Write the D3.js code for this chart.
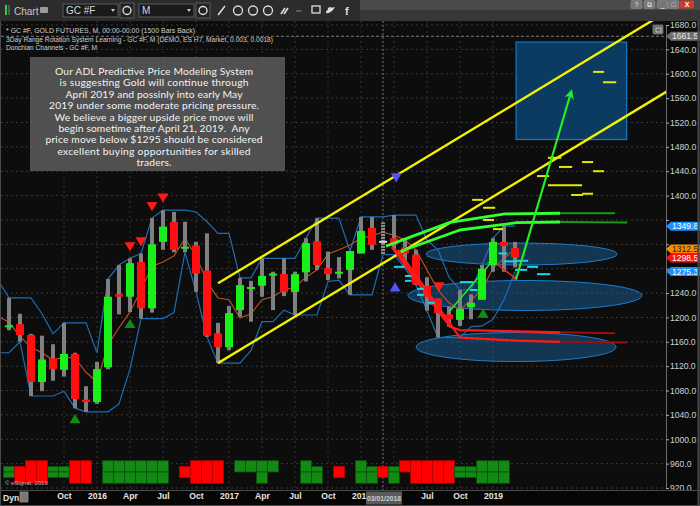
<!DOCTYPE html>
<html>
<head>
<meta charset="utf-8">
<script src="https://cdn.jsdelivr.net/npm/d3@7"></script>
<style>
  html, body { margin:0; padding:0; background:#0d0d0d; overflow:hidden; }
  svg { display:block; }
</style>
</head>
<body>
<svg id="chart" width="700" height="506"></svg>
<script>
// ===================== DATA =====================
const months = ["2015-05","2015-06","2015-07","2015-08","2015-09","2015-10","2015-11","2015-12",
  "2016-01","2016-02","2016-03","2016-04","2016-05","2016-06","2016-07","2016-08","2016-09","2016-10","2016-11","2016-12",
  "2017-01","2017-02","2017-03","2017-04","2017-05","2017-06","2017-07","2017-08","2017-09","2017-10","2017-11","2017-12",
  "2018-01","2018-02","2018-03","2018-04","2018-05","2018-06","2018-07","2018-08","2018-09","2018-10","2018-11","2018-12",
  "2019-01","2019-02","2019-03"];
const open  = [1185,1189,1171,1094,1133,1114,1140,1065,1061,1118,1238,1234,1291,1215,1324,1357,1313,1318,1277,1174,1151,1212,1247,1252,1270,1271,1242,1274,1325,1281,1272,1278,1305,1347,1318,1330,1315,1303,1252,1231,1205,1196,1217,1229,1286,1324,1314];
const high  = [1232,1206,1173,1170,1156,1191,1142,1087,1127,1263,1286,1297,1305,1363,1376,1373,1357,1324,1338,1191,1219,1265,1260,1297,1275,1297,1275,1330,1363,1308,1299,1309,1365,1365,1356,1368,1327,1311,1266,1231,1218,1245,1238,1286,1330,1349.8,1324];
const low   = [1179,1160,1071,1079,1096,1103,1051,1045,1058,1115,1205,1209,1198,1208,1311,1307,1307,1242,1168,1125,1146,1201,1193,1234,1212,1235,1204,1259,1278,1261,1264,1237,1305,1311,1303,1311,1281,1253,1211,1167,1185,1186,1197,1229,1275,1275,1282];
const close = [1187,1171,1094,1131,1115,1140,1066,1061,1115,1234,1234,1289,1215,1320,1349,1311,1316,1272,1170,1151,1207,1253,1250,1268,1272,1242,1271,1322,1286,1271,1275,1309,1342,1319,1324,1320,1305,1254,1234,1207,1197,1214,1224,1280,1324,1317,1298.5];
const selectedMonth = "2018-03";
const selectedDateLabel = "03/01/2018";

// indicators start one month earlier (partially visible at the left edge)
const indicatorMonths = ["2015-04", ...months];
const donchianUpper = [1261,1232,1232,1232,1206,1173,1191,1191,1191,1142,1263,1286,1297,1305,1363,1376,1376,1376,1373,1357,1338,1338,1265,1265,1297,1297,1297,1297,1330,1363,1363,1363,1309,1365,1365,1365,1368,1368,1368,1327,1311,1266,1245,1245,1286,1330,1349.8,1349.8];
const donchianLower = [1142,1142,1160,1071,1071,1071,1079,1051,1045,1045,1045,1058,1115,1198,1198,1198,1208,1307,1242,1168,1125,1125,1125,1146,1193,1193,1212,1204,1204,1204,1259,1261,1237,1237,1237,1303,1303,1281,1253,1211,1167,1167,1167,1185,1186,1197,1229,1275.3];
const rotationLine  = [1202,1192,1169,1151,1142,1130,1135,1133,1110,1094,1155,1183,1209,1245,1284,1291,1301,1330,1301,1258,1232,1229,1199,1206,1229,1234,1245,1250,1266,1278,1304,1311,1319,1330,1334,1340,1335,1327,1311,1278,1245,1224,1212,1229,1245,1281,1297,1312.5];

// bottom histogram: sign (1 green, -1 red, 0 none), level span 0..4
const histSign = [1,-1,-1,-1,1,1,-1,-1,0,1,1,1,1,1,1,0,-1,-1,-1,-1,0,1,1,1,1,0,0,1,1,0,-1,0,1,1,-1,1,-1,-1,-1,-1,-1,1,1,1,1,1,0];
const histFrom = [1,1,0,0,1,1,0,0,0,0,0,0,0,0,0,0,1,0,0,0,0,0,0,0,0,0,0,0,1,0,1,0,0,1,1,1,0,0,0,0,0,1,1,0,0,0,0];
const histTo   = [3,4,4,4,3,3,4,4,0,4,4,4,4,4,4,0,3,4,4,4,0,2,2,4,2,0,0,4,4,0,3,0,4,4,3,4,2,4,4,4,4,3,3,4,4,4,0];

// axis ticks (month index: 0 = Jan 2016)
const priceTicks = [920,960,1000,1040,1080,1120,1160,1200,1240,1280,1320,1360,1400,1440,1480,1520,1560,1600,1640,1680];
const gridMonths = [-3,0,3,6,9,12,15,18,21,24,27,30,33,36];
const tickMonths = [-3,0,3,6,9,12,15,18,21,24,30,33,36];
const tickLabels = ["Oct","2016","Apr","Jul","Oct","2017","Apr","Jul","Oct","2018","Jul","Oct","2019"];

// drawings: [monthIndex, price]
const channelUpper = [[11,1256],[52,1704]];
const channelLower = [[11,1125],[52,1573]];
const greenProjA    = [[26.27,1317],[32.09,1356],[37.09,1370],[42.09,1371]];
const greenProjAExt = [[42.09,1371],[47.1,1371]];
const greenProjB    = [[27.36,1307],[33,1343.5],[38.15,1355.5],[42.09,1356.6]];
const greenProjBExt = [[42.09,1356.6],[48.2,1356]];
const redProjA    = [[26.8,1315.6],[32.09,1184.8],[33,1179.3],[42.09,1175.6]];
const redProjAExt = [[42.09,1175.6],[47.1,1174]];
const redProjB    = [[27.36,1310.7],[33,1166.7],[38.15,1161.8],[42.09,1160]];
const redProjBExt = [[42.09,1160],[48.2,1159]];
const redProjC    = [[27.05,1313],[31.6,1196]];
const arrowUpSmall   = [[32.09,1211],[35.88,1291.5]];
const arrowDownSmall = [[36.33,1287.7],[38.15,1262.6]];
const arrowBig       = [[38.1,1263],[43.1,1570]];
const targetZone = {m1:38.1, m2:48.15, p1:1492, p2:1652};
const ellipses = [
  {m:38.6, p:1304,   rm:8.68,  rp:18},
  {m:38.9, p:1236,   rm:10.64, rp:24.6},
  {m:38.1, p:1151.4, rm:9.09,  rp:23.8}
];
// [monthStart, monthEnd, price]
const yellowDashes = [[34.1,35.1,1393],[35.1,36.2,1380],[35.1,36.1,1360],[36.0,36.9,1345],[40.0,41.1,1432],[41.0,42.2,1462],
  [42.0,43.2,1447],[41.0,44.1,1417],[43.1,44.2,1401],[44.1,45.1,1403],[44.1,45.1,1455],[45.1,46.1,1440],[45.1,46.1,1603],[46.0,47.2,1586]];
const cyanDashes = [[27.0,27.9,1283],[28.0,28.6,1268],[28.0,28.6,1260],[29.1,29.7,1247],[29.1,29.7,1237],[30.1,30.7,1224],
  [33.0,34.2,1258],[33.9,34.6,1245],[36.5,37.3,1305],[37.0,38.2,1292],[38.2,39.2,1293],[38.0,39.1,1278],[39.1,40.1,1283],[40.0,41.2,1271]];
const markerMonth = [3,4,5,6,31.1,27.2, 3,-2,35.1,27.1];
const markerPrice = [1316,1324,1382,1396,1250,1429, 1190,1034,1207,1250];
const markerDir   = ["down","down","down","down","down","down","up","up","up","up"];
const markerKind  = ["red","red","red","red","red","blue","green","green","green","blue"];

// last-value labels on the price axis
const valueLabels = [
  {v:1661.5, kind:"gray"},
  {v:1349.8, kind:"blue"},
  {v:1312.5, kind:"orange"},
  {v:1298.5, kind:"red"},
  {v:1275.3, kind:"blue"}
];

const headerLines = ["* GC #F, GOLD FUTURES, M, 00:00-00:00 (1500 Bars Back)",
  "3Day Range Rotation System Learning - GC #F, M (DEMO, ES H7, Market, 0.003, 0.0018)",
  "Donchian Channels - GC #F, M"];
const noteLines = ["Our ADL Predictive Price Modeling System","is suggesting Gold will continue through",
  "April 2019 and possinly into early May","2019 under some moderate pricing pressure.",
  "We believe a bigger upside price move will","begin sometime after April 21, 2019.  Any",
  "price move below $1295 should be considered","excellent buying opportunities for skilled","traders."];

// ===================== SETUP =====================
const mIdx = s => { const [yy, mm] = s.split("-").map(Number); return (yy - 2016) * 12 + mm - 1; };
const svg = d3.select("#chart");
const x = d3.scaleLinear().domain([-9, 52]).range([-2, 669]);
const y = d3.scaleLinear().domain([920, 1680]).range([488, 25]);
const histY = d3.scaleLinear().domain([0, 4]).range([460.7, 483.3]);
const PR = 666, PT = 21, PB = 490;
const selX = x(mIdx(selectedMonth));
const boxLeft = selX - 17;

const defs = svg.append("defs");
defs.append("clipPath").attr("id", "plotClip").append("rect")
  .attr("x", 1).attr("y", PT).attr("width", PR - 1).attr("height", PB - PT);
defs.append("clipPath").attr("id", "dateClip").attr("clipPathUnits", "userSpaceOnUse").append("rect")
  .attr("x", 0).attr("y", PB).attr("width", boxLeft).attr("height", 16);
const pat = defs.append("pattern").attr("id", "hatch").attr("width", 4).attr("height", 3)
  .attr("patternUnits", "userSpaceOnUse");
pat.append("rect").attr("width", 4).attr("height", 3).attr("fill", "#8c8c8c");
pat.append("rect").attr("y", 2).attr("width", 4).attr("height", 1).attr("fill", "#2a2a2a");
function mkMarker(id, color, size) {
  defs.append("marker").attr("id", id).attr("viewBox", "0 0 10 10").attr("refX", 7).attr("refY", 5)
    .attr("markerWidth", size).attr("markerHeight", size).attr("orient", "auto")
    .append("path").attr("d", "M0,0 L10,5 L0,10 L3,5 z").attr("fill", color);
}
mkMarker("arrG", "#22ee22", 4);
mkMarker("arrR", "#ff2020", 4);
mkMarker("arrBig", "#22ee22", 4.5);

svg.append("rect").attr("width", 700).attr("height", 506).attr("fill", "#0d0d0d");
const plot = svg.append("g").attr("clip-path", "url(#plotClip)");

// grid
plot.selectAll(".hg").data(priceTicks).join("line")
  .attr("x1", 1).attr("x2", PR).attr("y1", d => y(d)).attr("y2", d => y(d))
  .attr("stroke", "#3a3a3a").attr("stroke-dasharray", "2,3");
plot.selectAll(".vg").data(gridMonths).join("line")
  .attr("x1", d => x(d)).attr("x2", d => x(d)).attr("y1", PT).attr("y2", PB)
  .attr("stroke", "#333").attr("stroke-dasharray", "2,3");
// cursor lines
plot.append("line").attr("x1", selX).attr("x2", selX)
  .attr("y1", PT).attr("y2", PB).attr("stroke", "#666").attr("stroke-dasharray", "2,2").attr("stroke-width", 1.2);
plot.append("line").attr("x1", 1).attr("x2", PR).attr("y1", y(valueLabels[0].v)).attr("y2", y(valueLabels[0].v))
  .attr("stroke", "#7a7a7a").attr("stroke-dasharray", "3,2");

// zones
plot.append("rect").attr("x", x(targetZone.m1)).attr("y", y(targetZone.p2))
  .attr("width", x(targetZone.m2) - x(targetZone.m1)).attr("height", y(targetZone.p1) - y(targetZone.p2))
  .attr("fill", "#0b3b60").attr("stroke", "#1b78c4").attr("stroke-width", 1.2);
plot.selectAll(".ell").data(ellipses).join("ellipse")
  .attr("cx", d => x(d.m)).attr("cy", d => y(d.p))
  .attr("rx", d => x(d.m + d.rm) - x(d.m)).attr("ry", d => y(d.p - d.rp) - y(d.p))
  .attr("fill", "#1a6aa8").attr("fill-opacity", 0.45).attr("stroke", "#1f7cc8").attr("stroke-width", 1);

// histogram
const histRects = [];
months.forEach((s, i) => {
  if (!histSign[i]) return;
  const m = mIdx(s);
  if (histSign[i] > 0 && histFrom[i] < 2 && histTo[i] > 2) {
    histRects.push({m, a: histFrom[i], b: 2, s: 1});
    histRects.push({m, a: 2, b: histTo[i], s: 1});
  } else histRects.push({m, a: histFrom[i], b: histTo[i], s: histSign[i]});
});
plot.selectAll(".hist").data(histRects).join("rect")
  .attr("x", d => x(d.m) - 5.5).attr("width", 11)
  .attr("y", d => histY(d.a)).attr("height", d => histY(d.b) - histY(d.a))
  .attr("fill", d => d.s > 0 ? "#138a13" : "#ff0000")
  .attr("stroke", d => d.s > 0 ? "#0a4f0a" : "#b00000").attr("stroke-width", 0.8);

// indicators
const indLine = d3.line().x(d => x(d[0])).y(d => y(d[1]));
const indPts = arr => indicatorMonths.map((s, i) => [mIdx(s), arr[i]]);
plot.append("path").attr("d", indLine(indPts(donchianUpper))).attr("fill", "none").attr("stroke", "#1d6db4").attr("stroke-width", 1.2);
plot.append("path").attr("d", indLine(indPts(donchianLower))).attr("fill", "none").attr("stroke", "#1d6db4").attr("stroke-width", 1.2);
plot.append("path").attr("d", indLine(indPts(rotationLine))).attr("fill", "none").attr("stroke", "#c4521c").attr("stroke-width", 1.1);

// candles
const bars = months.map((s, i) => ({m: mIdx(s), o: open[i], h: high[i], l: low[i], c: close[i], sel: s === selectedMonth}));
plot.selectAll(".wick").data(bars).join("rect")
  .attr("x", d => x(d.m) - 2).attr("width", 4)
  .attr("y", d => y(d.h)).attr("height", d => y(d.l) - y(d.h))
  .attr("fill", d => d.sel ? "url(#hatch)" : "#808080");
plot.selectAll(".body").data(bars).join("rect")
  .attr("x", d => x(d.m) - 4).attr("width", 8)
  .attr("y", d => d.sel ? y(d.c) - 1 : Math.min(y(d.o), y(d.c)))
  .attr("height", d => d.sel ? 2 : Math.max(2, Math.abs(y(d.o) - y(d.c))))
  .attr("fill", d => d.sel ? "#d8d8d8" : (d.c >= d.o ? "#19f019" : "#ff1010"));

// channel lines
plot.append("path").attr("d", indLine(channelUpper)).attr("stroke", "#f2f200").attr("stroke-width", 2.4).attr("fill", "none");
plot.append("path").attr("d", indLine(channelLower)).attr("stroke", "#f2f200").attr("stroke-width", 2.4).attr("fill", "none");

// projections
const proj = (pts, color, w) => plot.append("path").attr("d", indLine(pts)).attr("fill", "none")
  .attr("stroke", color).attr("stroke-width", w).attr("stroke-linejoin", "round");
proj(greenProjAExt, "#1a9a1a", 2);
proj(greenProjBExt, "#1a9a1a", 2);
proj(redProjAExt, "#9a1010", 2);
proj(redProjBExt, "#9a1010", 2);
proj(greenProjA, "#33ff33", 2.8);
proj(greenProjB, "#33ff33", 2.8);
proj(redProjA, "#ff1a1a", 2.2);
proj(redProjB, "#ff1a1a", 2.2);
proj(redProjC, "#ff1a1a", 1.8);

// dashes
plot.selectAll(".yd").data(yellowDashes).join("line")
  .attr("x1", d => x(d[0])).attr("x2", d => x(d[1])).attr("y1", d => y(d[2])).attr("y2", d => y(d[2]))
  .attr("stroke", "#e8e800").attr("stroke-width", 2);
plot.selectAll(".cd").data(cyanDashes).join("line")
  .attr("x1", d => x(d[0])).attr("x2", d => x(d[1])).attr("y1", d => y(d[2])).attr("y2", d => y(d[2]))
  .attr("stroke", "#19d8e8").attr("stroke-width", 2);

// arrows
plot.append("path").attr("d", indLine(arrowUpSmall)).attr("stroke", "#22ee22").attr("stroke-width", 1.5)
  .attr("fill", "none").attr("marker-end", "url(#arrG)");
plot.append("path").attr("d", indLine(arrowDownSmall)).attr("stroke", "#ff2020").attr("stroke-width", 1.5)
  .attr("fill", "none").attr("marker-end", "url(#arrR)");
plot.append("path").attr("d", indLine(arrowBig)).attr("stroke", "#22ee22").attr("stroke-width", 2.2)
  .attr("fill", "none").attr("marker-end", "url(#arrBig)");

// triangle markers
const markerColors = {red: "#ff1a1a", green: "#138a13", blue: "#5252ff"};
const triPath = (cx, cy, dir) => dir === "down"
  ? `M${cx - 5.5},${cy - 4.6}L${cx + 5.5},${cy - 4.6}L${cx},${cy + 4.6}Z`
  : `M${cx - 5.5},${cy + 4.6}L${cx + 5.5},${cy + 4.6}L${cx},${cy - 4.6}Z`;
plot.selectAll(".tri").data(markerMonth.map((m, i) => i)).join("path")
  .attr("d", i => triPath(x(markerMonth[i]), y(markerPrice[i]), markerDir[i]))
  .attr("fill", i => markerColors[markerKind[i]]);

// annotation box
svg.append("rect").attr("x", 30).attr("y", 57).attr("width", 255).attr("height", 114)
  .attr("fill", "#5c5c5c").attr("fill-opacity", 0.86);
const noteWidths = [198,189,177,210,199,191,217,193,35];
svg.append("g").selectAll("text").data(noteLines).join("text")
  .attr("x", 154).attr("y", (d, i) => 75 + i * 11.4)
  .attr("text-anchor", "middle").attr("textLength", (d, i) => noteWidths[i]).attr("lengthAdjust", "spacing")
  .style("white-space", "pre").style("font-family", "Lato, 'Open Sans', sans-serif").style("font-size", "10.3px")
  .attr("fill", "#f3f3f3").text(d => d);

// header text
const headerWidths = [189, 267, 91];
svg.append("g").selectAll("text").data(headerLines).join("text")
  .attr("x", 6).attr("y", (d, i) => 33 + i * 8.7)
  .attr("textLength", (d, i) => headerWidths[i]).attr("lengthAdjust", "spacingAndGlyphs")
  .style("font-family", "'Liberation Sans', Arial, sans-serif").style("font-size", "7.6px")
  .attr("fill", "#cfcfcf").text(d => d);

// small restore icon
svg.append("rect").attr("x", 653).attr("y", 25).attr("width", 10).attr("height", 9).attr("rx", 1)
  .attr("fill", "#6a6a6a").attr("stroke", "#999").attr("stroke-width", 0.6);
svg.append("rect").attr("x", 656).attr("y", 28).attr("width", 5).attr("height", 4)
  .attr("fill", "none").attr("stroke", "#ddd").attr("stroke-width", 0.7);

// ===================== RIGHT AXIS =====================
svg.append("rect").attr("x", PR).attr("y", PT).attr("width", 700 - PR).attr("height", PB - PT).attr("fill", "#0a0a0a");
let lastBottom = -100;
const labelPos = valueLabels.map(d => {
  let cy = y(d.v);
  if (cy - 4.5 < lastBottom) cy = lastBottom + 4.5;
  lastBottom = cy + 4.5;
  return cy;
});
const ax = svg.append("g").attr("transform", `translate(${PR},0)`)
  .call(d3.axisRight(y).tickValues(priceTicks).tickFormat(d => d.toFixed(1)).tickSize(3).tickPadding(1));
ax.select(".domain").attr("stroke", "#6a6a6a");
ax.selectAll(".tick line").attr("stroke", "#aaa");
ax.selectAll(".tick text").attr("fill", "#d2d2d2")
  .style("font-family", "'Liberation Sans', Arial, sans-serif").style("font-size", "8.6px")
  .style("display", d => labelPos.some(cy => Math.abs(cy - y(d)) < 9) ? "none" : null);

const labelColors = {gray: ["#6e6e6e", "#e8e8e8"], blue: ["#1e8fff", "#ffffff"], orange: ["#ff8a00", "#222"], red: ["#ff1010", "#ffffff"]};
valueLabels.forEach((d, i) => {
  const cy = labelPos[i];
  const g = svg.append("g");
  g.append("path").attr("d", `M${PR},${cy}L${PR + 5},${cy - 4.5}L700,${cy - 4.5}L700,${cy + 4.5}L${PR + 5},${cy + 4.5}Z`)
    .attr("fill", labelColors[d.kind][0]);
  g.append("text").attr("x", PR + 6).attr("y", cy + 3).attr("fill", labelColors[d.kind][1])
    .style("font-family", "'Liberation Sans', Arial, sans-serif").style("font-size", "8.6px").text(d.v.toFixed(1));
});

// ===================== BOTTOM STRIP =====================
svg.append("rect").attr("x", 0).attr("y", PB).attr("width", 700).attr("height", 506 - PB).attr("fill", "#060606");
svg.append("line").attr("x1", 0).attr("x2", 700).attr("y1", PB + 0.5).attr("y2", PB + 0.5).attr("stroke", "#4a4a4a");
const bx = svg.append("g").attr("clip-path", "url(#dateClipOuter)");
const bAxis = svg.append("g").attr("transform", `translate(0,${PB + 3})`)
  .call(d3.axisBottom(x).tickValues(tickMonths).tickFormat((d, i) => tickLabels[i]).tickSize(0).tickPadding(0));
bAxis.select(".domain").remove();
bAxis.selectAll(".tick text").attr("fill", "#e4e4e4")
  .style("font-family", "'Liberation Sans', Arial, sans-serif").style("font-size", "8.6px").style("font-weight", "bold");
// the year label under the cursor date box is partly hidden by it: clip at the box edge
const nearTick = tickMonths.find(m => Math.abs(x(m) - selX) < 30);
defs.append("clipPath").attr("id", "yearClip").append("rect")
  .attr("x", -40).attr("y", -12).attr("width", 40 + (boxLeft - x(nearTick))).attr("height", 30);
bAxis.selectAll(".tick").filter(d => d === nearTick).select("text").attr("clip-path", "url(#yearClip)");
// cursor date box
svg.append("rect").attr("x", boxLeft).attr("y", PB + 1.5).attr("width", 36).attr("height", 13).attr("fill", "#5a5a5a");
svg.append("text").attr("x", selX + 1).attr("y", PB + 11).attr("text-anchor", "middle").attr("fill", "#d0d0d0")
  .style("font-family", "'Liberation Sans', Arial, sans-serif").style("font-size", "8px").style("font-weight", "bold")
  .attr("textLength", 34).attr("lengthAdjust", "spacingAndGlyphs").text(selectedDateLabel);
svg.append("text").attr("x", 3).attr("y", PB + 11).attr("fill", "#e0e0e0")
  .style("font-family", "'Liberation Sans', Arial, sans-serif").style("font-size", "8.6px").style("font-weight", "bold").text("Dyn");
svg.append("rect").attr("x", 20).attr("y", PB + 2).attr("width", 8).attr("height", 10)
  .attr("fill", "#777").attr("stroke", "#aaa").attr("stroke-width", 0.6);
svg.append("text").attr("x", 5).attr("y", 485).attr("fill", "#b0b0b0")
  .style("font-family", "'Liberation Sans', Arial, sans-serif").style("font-size", "6px").text("© eSignal, 2019");
svg.append("line").attr("x1", 0).attr("x2", 700).attr("y1", 505.5).attr("y2", 505.5).attr("stroke", "#4a4a4a");

// frame
svg.append("line").attr("x1", 0.5).attr("x2", 0.5).attr("y1", PT).attr("y2", 506).attr("stroke", "#4a4a4a");
svg.append("line").attr("x1", 698.5).attr("x2", 698.5).attr("y1", 0).attr("y2", 506).attr("stroke", "#4a4a4a").attr("stroke-width", 2);

// ===================== TOOLBAR =====================
const tb = svg.append("g");
tb.append("rect").attr("width", 700).attr("height", PT).attr("fill", "#2c2c2c");
tb.append("rect").attr("x", 360).attr("width", 340).attr("height", 10).attr("fill", "#4a4a4a");
tb.append("rect").attr("x", 360).attr("y", 10).attr("width", 340).attr("height", 11).attr("fill", "#373737");
tb.append("rect").attr("x", 5).attr("y", 5).attr("width", 2).attr("height", 10).attr("fill", "#2ed12e");
tb.append("rect").attr("x", 8).attr("y", 5).attr("width", 2).attr("height", 10).attr("fill", "#555");
const tbFont = "'Liberation Sans', Arial, sans-serif";
tb.append("text").attr("x", 14).attr("y", 14.5).attr("fill", "#c8c8c8").style("font-family", tbFont).style("font-size", "10px").text("Chart");
tb.append("rect").attr("x", 40).attr("y", 7).attr("width", 8).attr("height", 6).attr("rx", 1).attr("fill", "#999");
[[63, "GC #F"], [139, "M"]].forEach(([bx0, t]) => {
  tb.append("rect").attr("x", bx0).attr("y", 4).attr("width", 55).attr("height", 13).attr("fill", "#1a1a1a").attr("stroke", "#5a5a5a");
  tb.append("text").attr("x", bx0 + 3).attr("y", 14).attr("fill", "#d8d8d8").style("font-family", tbFont).style("font-size", "10px").text(t);
  tb.append("path").attr("d", `M${bx0 + 48},9L${bx0 + 52},9L${bx0 + 50},12Z`).attr("fill", "#ccc");
});
[120, 196].forEach(bx0 => {
  tb.append("rect").attr("x", bx0).attr("y", 3).attr("width", 14).attr("height", 15).attr("fill", "#222").attr("stroke", "#5a5a5a");
  tb.append("circle").attr("cx", bx0 + 7).attr("cy", 10.5).attr("r", 4).attr("fill", "none").attr("stroke", "#ddd").attr("stroke-width", 1.4);
});
tb.append("line").attr("x1", 218).attr("y1", 15).attr("x2", 225).attr("y2", 6).attr("stroke", "#ddd").attr("stroke-width", 1.5);
[238, 253, 268].forEach(cx => tb.append("circle").attr("cx", cx).attr("cy", 10.5).attr("r", 4.5)
  .attr("fill", "none").attr("stroke", "#ddd").attr("stroke-width", 1.3));
tb.append("path").attr("d", "M281,14L285,8M284,14L288,8").attr("stroke", "#ddd").attr("stroke-width", 1.6);
tb.append("text").attr("x", 296).attr("y", 12).attr("fill", "#aaa").style("font-family", tbFont).style("font-size", "4px").text("srs");
tb.append("rect").attr("x", 312).attr("y", 6).attr("width", 8).attr("height", 7).attr("fill", "none").attr("stroke", "#ddd").attr("stroke-width", 1.3);
tb.append("path").attr("d", "M326,13Q331,14 335,7Q332,8 330,7Q327,8 328,10Q326,10 326,13Z").attr("fill", "#ddd");
tb.append("text").attr("x", 345).attr("y", 15).attr("fill", "#ddd").style("font-family", tbFont).style("font-size", "11px").style("font-weight", "bold").text("f");
[[631, "?"], [644, "⧉"], [657, "_"], [668, "□"]].forEach(([bx0, t]) => {
  tb.append("rect").attr("x", bx0).attr("y", 0.5).attr("width", 11).attr("height", 8).attr("rx", 1).attr("fill", "#777").attr("stroke", "#999").attr("stroke-width", 0.5);
  tb.append("text").attr("x", bx0 + 5.5).attr("y", 7).attr("text-anchor", "middle").attr("fill", "#eee")
    .style("font-family", tbFont).style("font-size", "7px").text(t);
});
tb.append("rect").attr("x", 680).attr("y", 0.5).attr("width", 14).attr("height", 8).attr("rx", 1).attr("fill", "#d23a2a");
tb.append("text").attr("x", 687).attr("y", 7).attr("text-anchor", "middle").attr("fill", "#fff")
  .style("font-family", tbFont).style("font-size", "7px").style("font-weight", "bold").text("X");
</script>
</body>
</html>
